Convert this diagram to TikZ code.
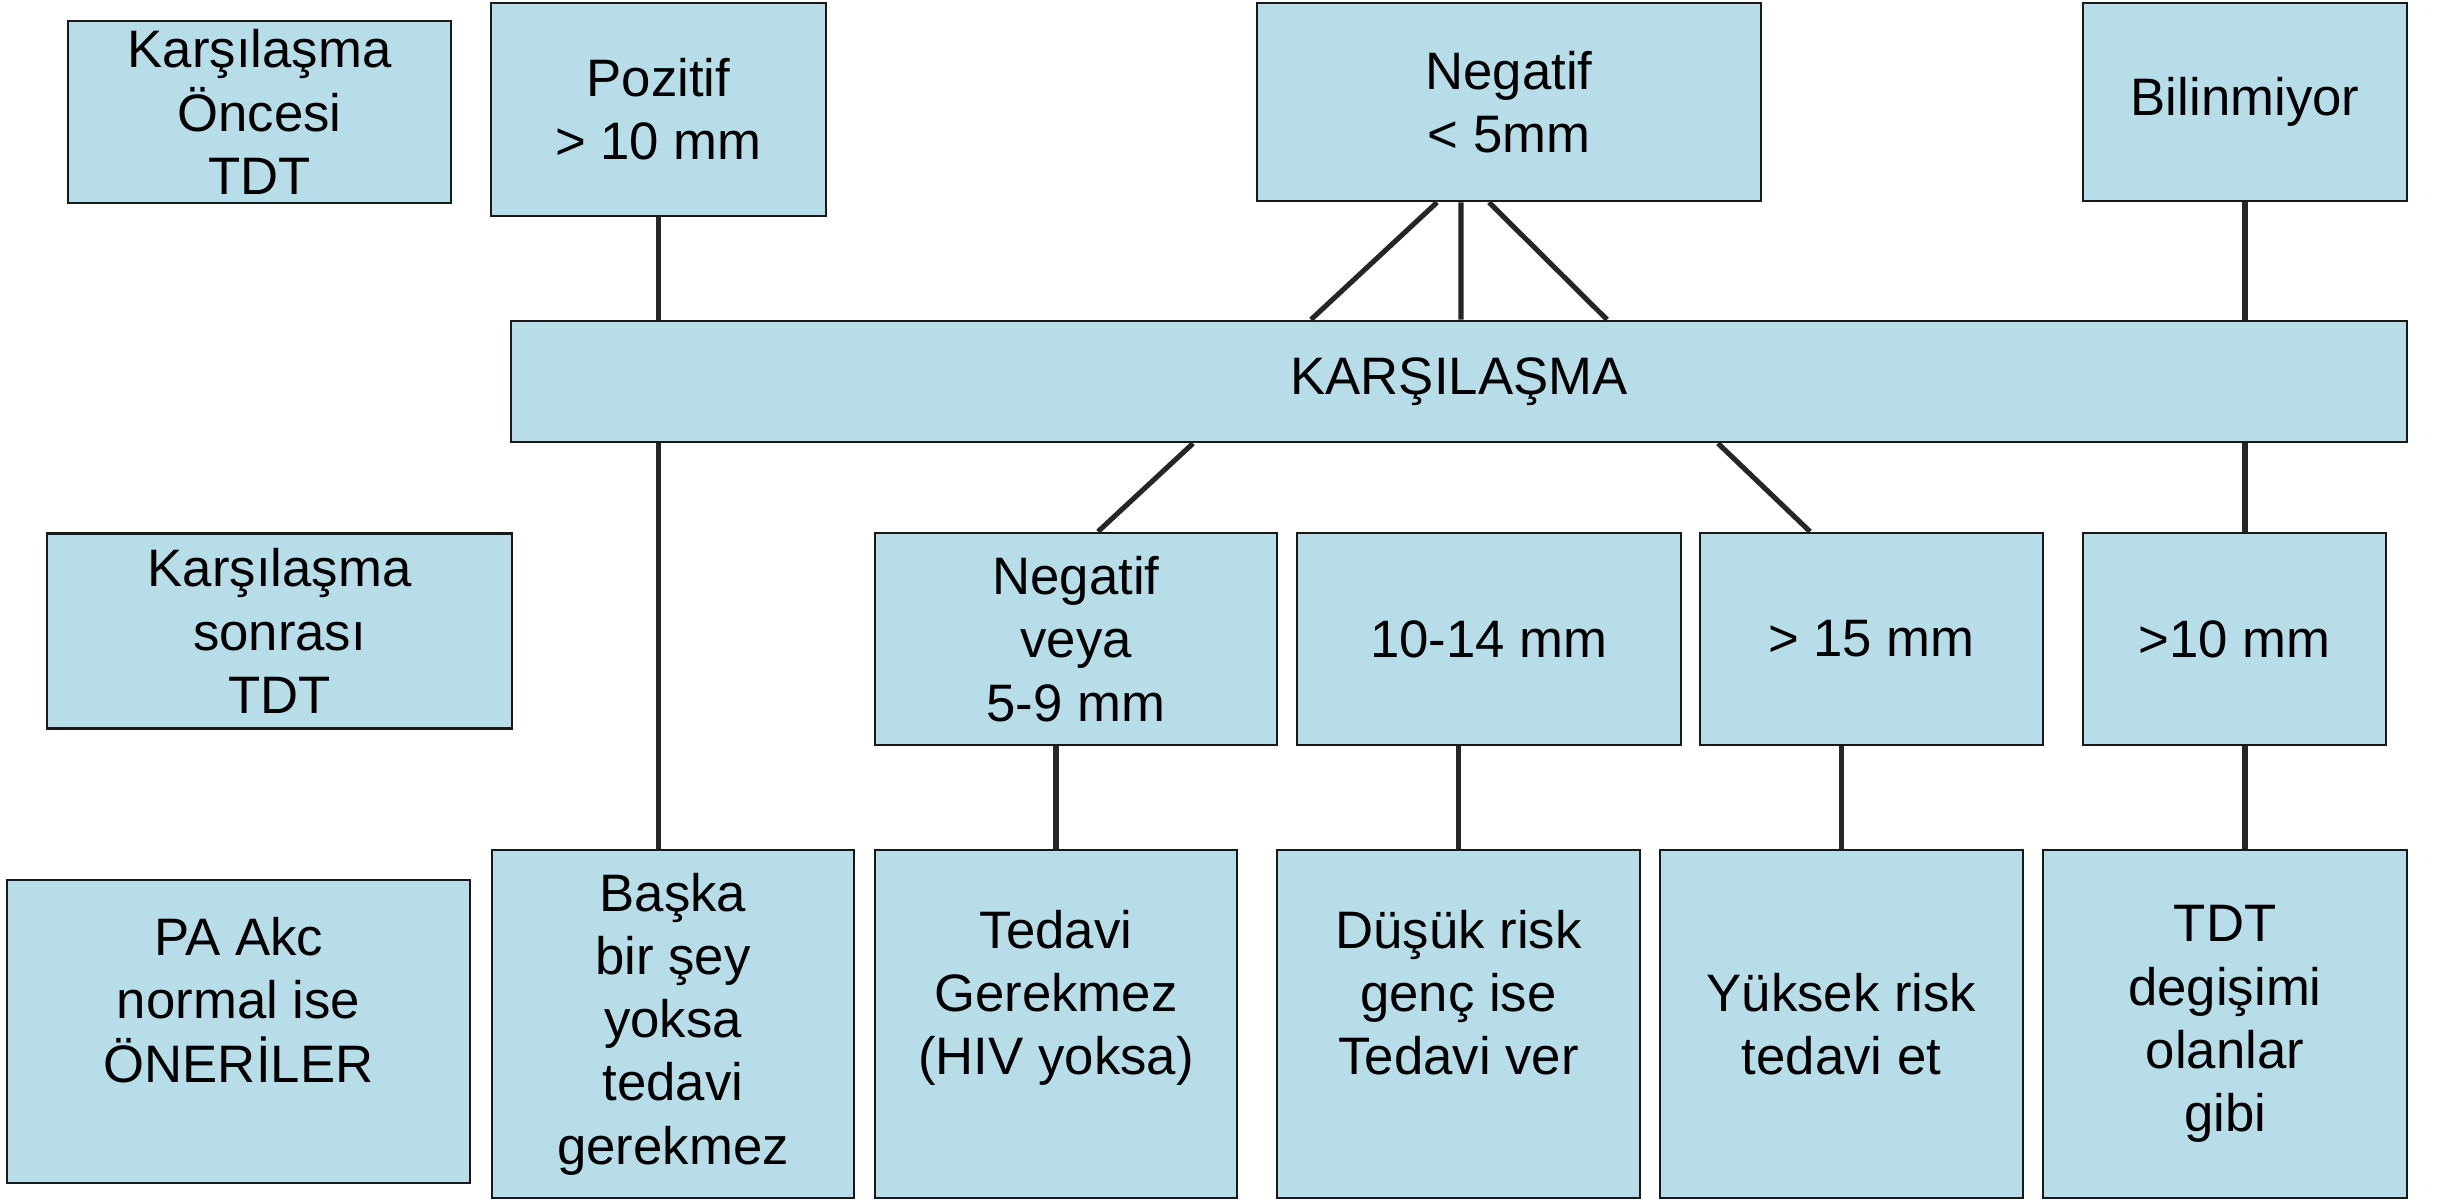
\documentclass[tikz,border=0pt]{standalone}
\usepackage{fontspec}
\setmainfont{Liberation Sans}
\usepackage{xcolor}
\usepackage{tikz}
\usetikzlibrary{
  calc,
  positioning
}
\definecolor{tdtblue}{HTML}{B7DDE8}

\begin{document}
\begin{tikzpicture}[
  font=\fontsize{15pt}{18pt}\selectfont,
  box/.style 2 args={draw=black!90, fill=tdtblue, line width=0.8pt,
               minimum width=#1, minimum height=#2, align=center, inner sep=0pt},
  link/.style={draw=black!85, line width=1.45pt},
]
  \useasboundingbox (0,0) rectangle (24.40,-11.99);

  % Karsilasma oncesi
  \node[box={3.83cm}{1.82cm}] (A) at (2.595,-1.12) {Karşılaşma\\Öncesi\\TDT};
  \node[box={3.35cm}{2.13cm}] (B) at (6.585,-1.095) {Pozitif\\> 10 mm};
  \node[box={5.04cm}{1.98cm}] (C) at (15.09,-1.02) {Negatif\\< 5mm};
  \node[box={3.24cm}{1.98cm}] (D) at (22.45,-1.02) {Bilinmiyor};

  % Karsilasma
  \node[box={18.96cm}{1.21cm}] (bar) at (14.59,-3.815) {KARŞILAŞMA};

  % Karsilasma sonrasi
  \node[box={4.65cm}{1.95cm}] (S) at (2.795,-6.31) {Karşılaşma\\sonrası\\TDT};
  \node[box={4.02cm}{2.12cm}] (N) at (10.76,-6.39) {Negatif\\veya\\5-9 mm};
  \node[box={3.84cm}{2.12cm}] (M1) at (14.89,-6.39) {10-14 mm};
  \node[box={3.43cm}{2.12cm}] (M2) at (18.715,-6.39) {> 15 mm};
  \node[box={3.03cm}{2.12cm}] (M3) at (22.345,-6.39) {>10 mm};

  % Oneriler
  \node[box={4.63cm}{3.03cm}] (P) at (2.385,-10.315) {PA Akc\\normal ise\\ÖNERİLER\\~};
  \node[box={3.62cm}{3.48cm}] (R1) at (6.73,-10.24) {Başka\\bir şey\\yoksa\\tedavi\\gerekmez};
  \node[box={3.62cm}{3.48cm}] (R2) at (10.56,-10.24) {Tedavi\\Gerekmez\\(HIV yoksa)\\~};
  \node[box={3.63cm}{3.48cm}] (R3) at (14.585,-10.24) {Düşük risk\\genç ise\\Tedavi ver\\~};
  \node[box={3.63cm}{3.48cm}] (R4) at (18.415,-10.24) {Yüksek risk\\tedavi et};
  \node[box={3.64cm}{3.48cm}] (R5) at (22.25,-10.24) {TDT\\degişimi\\olanlar\\gibi};

  % top row to bar
  \draw[link] (B.south) -- (B.south |- bar.north);
  \draw[link] ($(C.south)+(-0.72,0)$) -- ($(bar.north)+(-1.48,0)$);
  \draw[link] ($(C.south)+(-0.48,0)$) -- ($(bar.north)+(0.02,0)$);
  \draw[link] ($(C.south)+(-0.20,0)$) -- ($(bar.north)+(1.48,0)$);
  \draw[link] (D.south) -- (D.south |- bar.north);

  % bar to lower rows
  \draw[link] (B.south |- bar.south) -- (B.south |- R1.north);
  \draw[link] ($(bar.south)+(-2.66,0)$) -- ($(N.north)+(0.22,0)$);
  \draw[link] ($(bar.south)+(0.02,0)$) -- ($(bar.south)+(0.02,0)$ |- M1.north);
  \draw[link] ($(bar.south)+(2.59,0)$) -- ($(M2.north)+(-0.615,0)$);
  \draw[link] (D.south |- bar.south) -- (D.south |- M3.north);

  \draw[link] (R2.north |- N.south) -- (R2.north);
  \draw[link] (R3.north |- M1.south) -- (R3.north);
  \draw[link] (R4.north |- M2.south) -- (R4.north);
  \draw[link] (D.south |- M3.south) -- (D.south |- R5.north);
\end{tikzpicture}
\end{document}
